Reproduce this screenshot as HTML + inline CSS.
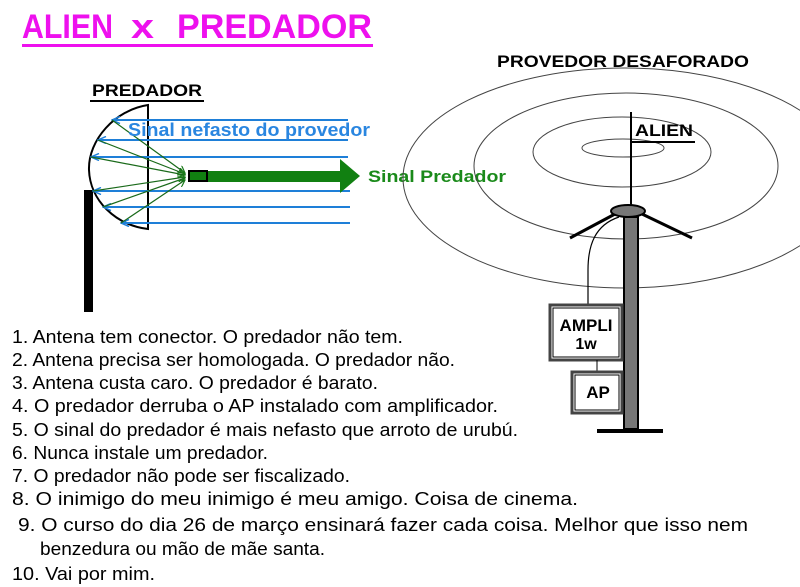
<!DOCTYPE html>
<html><head><meta charset="utf-8"><style>html,body{margin:0;padding:0;background:#fff}svg{display:block}</style></head>
<body>
<svg width="800" height="587" viewBox="0 0 800 587" xmlns="http://www.w3.org/2000/svg" font-family="Liberation Sans, Arial, sans-serif">
<rect width="800" height="587" fill="#fff"/>
<!-- title -->
<text x="22" y="38" font-size="34" font-weight="bold" fill="#ee10ee" textLength="91" lengthAdjust="spacingAndGlyphs">ALIEN</text>
<text x="131" y="38" font-size="34" font-weight="bold" fill="#ee10ee" textLength="23" lengthAdjust="spacingAndGlyphs">x</text>
<text x="177" y="38" font-size="34" font-weight="bold" fill="#ee10ee" textLength="195" lengthAdjust="spacingAndGlyphs">PREDADOR</text>
<rect x="22" y="44" width="351" height="3" fill="#ee10ee"/>

<!-- predador -->
<text x="92" y="96" font-size="17" font-weight="bold" textLength="110" lengthAdjust="spacingAndGlyphs">PREDADOR</text>
<rect x="90" y="100" width="114" height="2" fill="#000"/>
<rect x="84" y="190" width="9" height="122" fill="#000"/>
<path d="M148,105 C115,110 88,140 89,170 C90,200 115,225 148,229 Z" fill="none" stroke="#000" stroke-width="2"/>
<defs>
<marker id="bl" markerUnits="userSpaceOnUse" markerWidth="10" markerHeight="8" refX="9" refY="4" orient="auto"><path d="M1,0.5 L9,4 L1,7.5" fill="none" stroke="#1e7fd8" stroke-width="1.5"/></marker>
<marker id="gr" markerUnits="userSpaceOnUse" markerWidth="8" markerHeight="8" refX="7" refY="4" orient="auto"><path d="M0,0 L7,4 L0,8" fill="none" stroke="#1a7a1a" stroke-width="1.2"/></marker>
</defs>
<g stroke="#1e7fd8" stroke-width="2">
<line x1="348" y1="120" x2="112" y2="120" marker-end="url(#bl)"/>
<line x1="348" y1="140" x2="98" y2="140" marker-end="url(#bl)"/>
<line x1="348" y1="157" x2="91" y2="157" marker-end="url(#bl)"/>
<line x1="350" y1="191" x2="93" y2="191" marker-end="url(#bl)"/>
<line x1="350" y1="207" x2="103" y2="207" marker-end="url(#bl)"/>
<line x1="350" y1="223" x2="121" y2="223" marker-end="url(#bl)"/>
</g>
<g stroke="#1a6a1a" stroke-width="1.2">
<line x1="112" y1="120" x2="185" y2="173" marker-end="url(#gr)"/>
<line x1="98" y1="140" x2="185" y2="174" marker-end="url(#gr)"/>
<line x1="91" y1="157" x2="185" y2="175" marker-end="url(#gr)"/>
<line x1="93" y1="191" x2="185" y2="177" marker-end="url(#gr)"/>
<line x1="103" y1="207" x2="185" y2="178" marker-end="url(#gr)"/>
<line x1="121" y1="223" x2="185" y2="180" marker-end="url(#gr)"/>
</g>
<text x="128" y="136" font-size="18" font-weight="bold" fill="#2a86e0" textLength="242" lengthAdjust="spacingAndGlyphs">Sinal nefasto do provedor</text>
<rect x="207" y="171" width="134" height="11" fill="#118011"/>
<path d="M340,159 L360,176 L340,193 Z" fill="#118011"/>
<rect x="189" y="171" width="18" height="10" fill="#118011" stroke="#000" stroke-width="2"/>
<text x="368" y="182" font-size="17" font-weight="bold" fill="#1a8a1a" textLength="138" lengthAdjust="spacingAndGlyphs">Sinal Predador</text>

<!-- provedor -->
<text x="497" y="67" font-size="17" font-weight="bold" textLength="252" lengthAdjust="spacingAndGlyphs">PROVEDOR DESAFORADO</text>
<g fill="none" stroke="#444" stroke-width="1">
<ellipse cx="625" cy="178" rx="222" ry="110"/>
<ellipse cx="626" cy="166" rx="152" ry="73"/>
<ellipse cx="622" cy="152" rx="89" ry="35"/>
<ellipse cx="623" cy="148" rx="41" ry="9"/>
</g>
<line x1="631" y1="112" x2="631" y2="207" stroke="#000" stroke-width="2"/>
<text x="635" y="136" font-size="17" font-weight="bold" textLength="58" lengthAdjust="spacingAndGlyphs">ALIEN</text>
<line x1="631" y1="142" x2="695" y2="142" stroke="#000" stroke-width="2"/>
<path d="M615,214 L570,238 M642,214 L692,238" stroke="#000" stroke-width="3"/>
<rect x="624" y="217" width="14" height="212" fill="#777" stroke="#000" stroke-width="2"/>
<ellipse cx="628" cy="211" rx="17" ry="6" fill="#777" stroke="#000" stroke-width="2"/>
<path d="M619,217 C595,225 588,245 588,270 L588,305" fill="none" stroke="#000" stroke-width="1.2"/>
<rect x="597" y="429" width="66" height="4" fill="#000"/>
<rect x="550" y="305" width="72" height="55" fill="#fff" stroke="#444" stroke-width="3"/>
<rect x="553" y="308" width="66" height="49" fill="none" stroke="#000" stroke-width="1"/>
<text x="586" y="331" font-size="17" font-weight="bold" text-anchor="middle">AMPLI</text>
<text x="586" y="349" font-size="16" font-weight="bold" text-anchor="middle">1w</text>
<line x1="597" y1="360" x2="597" y2="372" stroke="#000"/>
<rect x="572" y="372" width="50" height="41" fill="#fff" stroke="#444" stroke-width="3"/>
<rect x="575" y="375" width="44" height="35" fill="none" stroke="#000" stroke-width="1"/>
<text x="598" y="398" font-size="17" font-weight="bold" text-anchor="middle">AP</text>

<!-- list -->
<g font-size="18" fill="#000">
<text x="12" y="343" textLength="391" lengthAdjust="spacingAndGlyphs">1. Antena tem conector. O predador não tem.</text>
<text x="12" y="366" textLength="443" lengthAdjust="spacingAndGlyphs">2. Antena precisa ser homologada. O predador não.</text>
<text x="12" y="389" textLength="366" lengthAdjust="spacingAndGlyphs">3. Antena custa caro. O predador é barato.</text>
<text x="12" y="412" textLength="486" lengthAdjust="spacingAndGlyphs">4. O predador derruba o AP instalado com amplificador.</text>
<text x="12" y="436" textLength="506" lengthAdjust="spacingAndGlyphs">5. O sinal do predador é mais nefasto que arroto de urubú.</text>
<text x="12" y="459" textLength="256" lengthAdjust="spacingAndGlyphs">6. Nunca instale um predador.</text>
<text x="12" y="482" textLength="338" lengthAdjust="spacingAndGlyphs">7. O predador não pode ser fiscalizado.</text>
<text x="12" y="505" textLength="566" lengthAdjust="spacingAndGlyphs">8. O inimigo do meu inimigo é meu amigo. Coisa de cinema.</text>
<text x="18" y="531" textLength="730" lengthAdjust="spacingAndGlyphs">9. O curso do dia 26 de março ensinará  fazer cada coisa. Melhor que isso nem</text>
<text x="40" y="555" textLength="285" lengthAdjust="spacingAndGlyphs">benzedura ou mão de mãe santa.</text>
<text x="12" y="580" textLength="143" lengthAdjust="spacingAndGlyphs">10. Vai por mim.</text>
</g>
</svg>
</body></html>
